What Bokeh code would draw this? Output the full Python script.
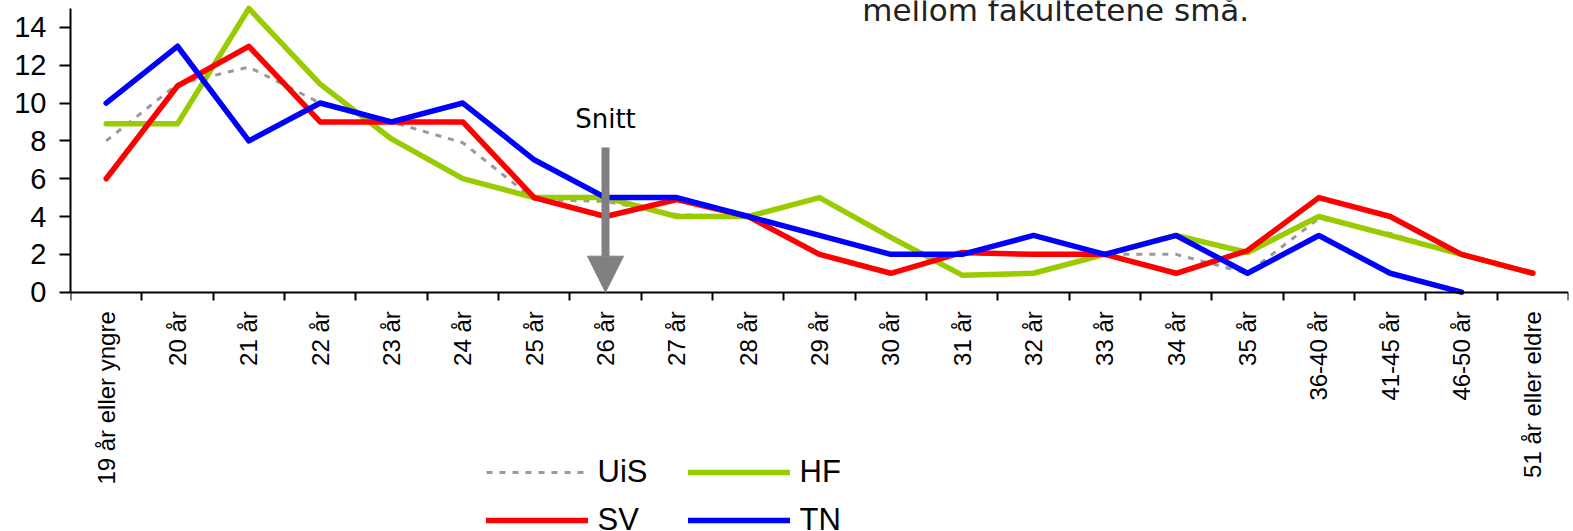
import math
from bokeh.plotting import figure
from bokeh.models import (ColumnDataSource, FixedTicker, Range1d, Legend, LegendItem,
                          Arrow, NormalHead, Label)
from bokeh.embed import file_html
from bokeh.resources import INLINE

categories = ["19 år eller yngre", "20 år", "21 år", "22 år", "23 år", "24 år", "25 år",
              "26 år", "27 år", "28 år", "29 år", "30 år", "31 år", "32 år", "33 år",
              "34 år", "35 år", "36-40 år", "41-45 år", "46-50 år", "51 år eller eldre"]
uis = [8.0, 11.0, 11.9, 10.0, 9.0, 7.9, 4.9, 4.8, 4.1, 4.0, 3.0, 2.0, 2.0, 2.0, 2.0,
       2.0, 1.0, 3.9, 3.1, 2.0, 1.0]
hf = [8.9, 8.9, 15.0, 11.0, 8.1, 6.0, 5.0, 5.0, 4.0, 4.0, 5.0, 2.9, 0.9, 1.0, 2.0,
      3.0, 2.1, 4.0, 3.0, 2.0, 1.0]
sv = [6.0, 10.9, 13.0, 9.0, 9.0, 9.0, 5.0, 4.0, 4.9, 4.0, 2.0, 1.0, 2.1, 2.0, 2.0,
      1.0, 2.2, 5.0, 4.0, 2.0, 1.0]
tn = [10.0, 13.0, 8.0, 10.0, 9.0, 10.0, 7.0, 5.0, 5.0, 4.0, 3.0, 2.0, 2.0, 3.0, 2.0,
      3.0, 1.0, 3.0, 1.0, 0.0, float("nan")]
y_ticks = [0, 2, 4, 6, 8, 10, 12, 14]
series_names = ["UiS", "HF", "SV", "TN"]
snitt_category = "26 år"

n = len(categories)
xs = list(range(n))
boundaries = [i - 0.5 for i in range(n + 1)]

W, H = 1573, 531
p = figure(width=W, height=H, output_backend="svg", toolbar_location=None,
           x_range=Range1d(-0.5, n - 0.5), y_range=Range1d(-12.65, 15.42),
           min_border_left=70, min_border_right=5, min_border_top=0,
           min_border_bottom=0)
p.outline_line_color = None
p.xgrid.visible = False
p.ygrid.visible = False

FONT = "Liberation Sans"

xa = p.xaxis[0]
xa.fixed_location = 0
xa.ticker = FixedTicker(ticks=xs, minor_ticks=boundaries)
xa.major_label_overrides = {i: c for i, c in zip(xs, categories)}
xa.major_tick_out = 0
xa.major_tick_in = 0
xa.major_tick_line_color = None
xa.minor_tick_out = 8
xa.minor_tick_in = 0
xa.minor_tick_line_width = 2
xa.minor_tick_line_color = "black"
xa.axis_line_width = 2
xa.axis_line_color = "black"
xa.major_label_orientation = math.pi / 2
xa.major_label_standoff = 11
xa.major_label_text_font = FONT
xa.major_label_text_font_size = "24px"
xa.major_label_text_color = "black"

ya = p.yaxis[0]
ya.bounds = (0, 15)
ya.ticker = FixedTicker(ticks=y_ticks)
ya.major_tick_out = 11
ya.major_tick_in = 0
ya.major_tick_line_width = 2
ya.major_tick_line_color = "black"
ya.minor_tick_line_color = None
ya.axis_line_width = 2
ya.axis_line_color = "black"
ya.major_label_standoff = 13
ya.major_label_text_font = FONT
ya.major_label_text_font_size = "29px"
ya.major_label_text_color = "black"

src = ColumnDataSource(dict(x=xs, uis=uis, hf=hf, sv=sv, tn=tn))
r_uis = p.line("x", "uis", source=src, line_color="#9a9a9a", line_width=3,
               line_dash="6 7")
r_hf = p.line("x", "hf", source=src, line_color="#99CC00", line_width=5.5,
              line_join="round", line_cap="round")
r_sv = p.line("x", "sv", source=src, line_color="#FF0000", line_width=5.5,
              line_join="round", line_cap="round")
r_tn = p.line("x", "tn", source=src, line_color="#0000FF", line_width=5.5,
              line_join="round", line_cap="round")

legend = Legend(
    items=[LegendItem(label=series_names[0], renderers=[r_uis]),
           LegendItem(label=series_names[1], renderers=[r_hf]),
           LegendItem(label=series_names[2], renderers=[r_sv]),
           LegendItem(label=series_names[3], renderers=[r_tn])],
    orientation="horizontal", ncols=2, location=(415.5, -6.5),
    glyph_width=102, glyph_height=20, label_standoff=10, label_width=78,
    label_height=35, spacing=12, padding=0, margin=0, border_line_color=None,
    background_fill_alpha=0, label_text_font=FONT, label_text_font_size="31px",
    label_text_color="black", label_text_baseline="middle")
p.add_layout(legend)

sx = categories.index(snitt_category)
p.add_layout(Arrow(end=NormalHead(size=36, fill_color="#808080", line_color="#808080"),
                   x_start=sx, y_start=7.65, x_end=sx, y_end=0,
                   line_color="#808080", line_width=8))
p.add_layout(Label(x=sx, y=9.18, text="Snitt", text_align="center",
                   text_baseline="alphabetic", text_font="DejaVu Sans",
                   text_font_size="26px", text_color="black"))
p.add_layout(Label(x=10.6, y=14.9, text="mellom fakultetene små.", text_align="left",
                   text_baseline="alphabetic", text_font="DejaVu Sans",
                   text_font_size="31px", text_color="#222222"))

open("out.html", "w").write(file_html(p, INLINE))
